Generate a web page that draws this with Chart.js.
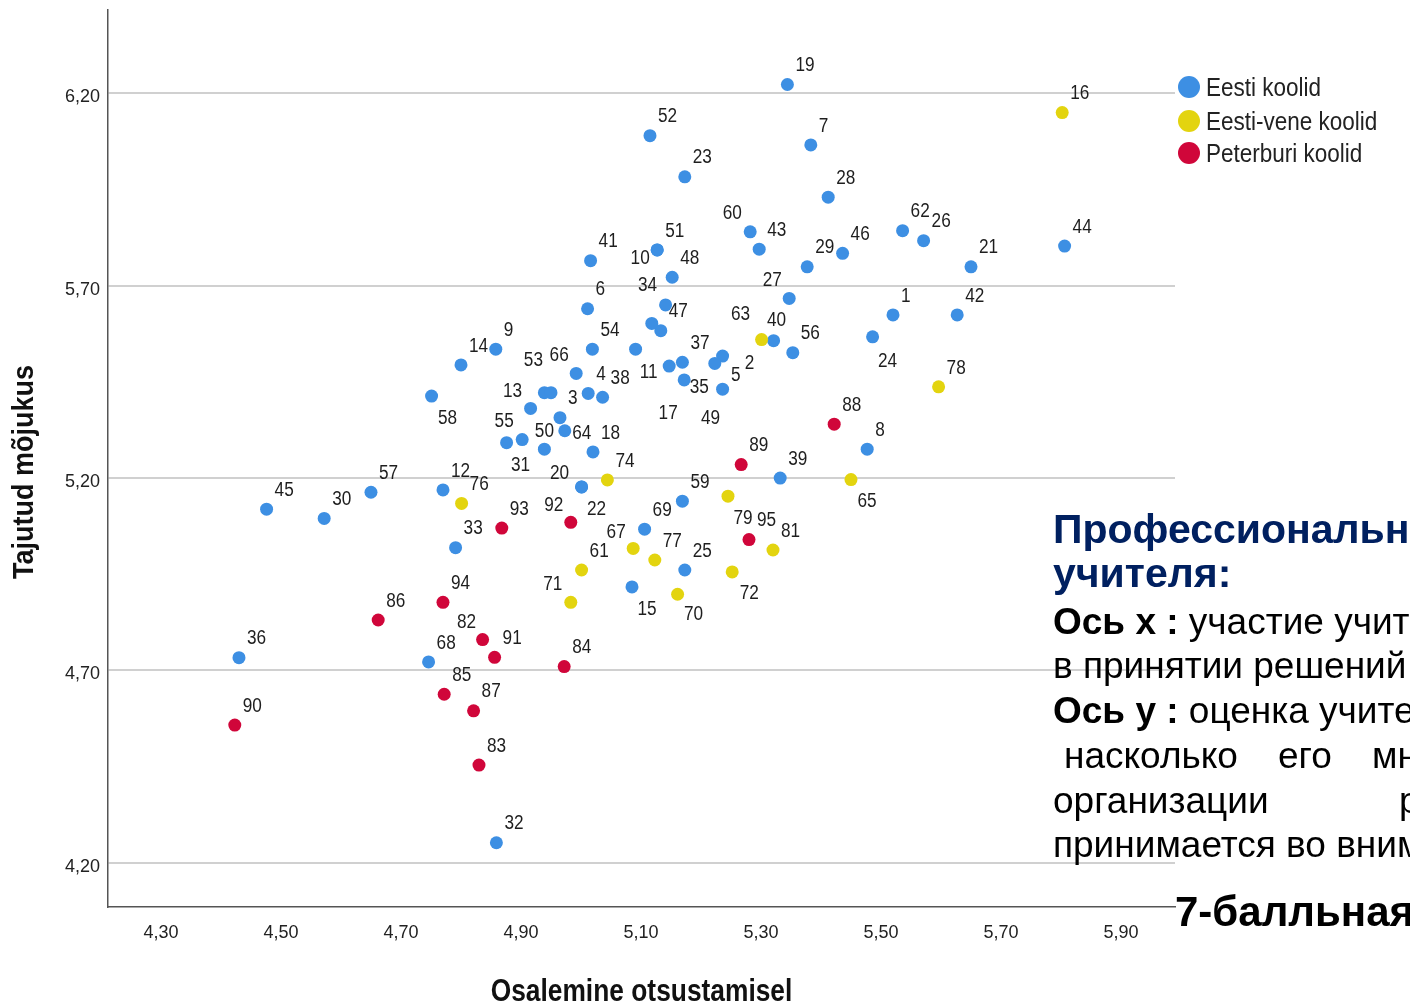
<!DOCTYPE html>
<html>
<head>
<meta charset="utf-8">
<script src="https://cdn.jsdelivr.net/npm/chart.js@4.4.1/dist/chart.umd.min.js"></script>
<style>
  html, body { margin: 0; padding: 0; background: #fff; }
  #wrap { position: relative; width: 1410px; height: 1005px; overflow: hidden; }
  #scatter { position: absolute; left: 0; top: 0; }
  .note { position: absolute; white-space: nowrap; font-family: "Liberation Sans", Arial, sans-serif; line-height: 1; color: #000; }
  .head { font-weight: bold; color: #002060; font-size: 41px; }
  .body { font-size: 37px; }
  .big { font-weight: bold; font-size: 42px; }
</style>
</head>
<body>
<div id="wrap">
  <canvas id="scatter" width="1410" height="1005"></canvas>
  <div class="note head" style="left:1053px; top:509px">Профессиональн</div>
  <div class="note head" style="left:1053px; top:553px">учителя:</div>
  <div class="note body" style="left:1053px; top:603px"><b>Ось x :</b> участие учит</div>
  <div class="note body" style="left:1053px; top:647px">в принятии решений</div>
  <div class="note body" style="left:1053px; top:692px"><b>Ось y :</b> оценка учите</div>
  <div class="note body" style="left:1064px; top:737px">насколько</div>
  <div class="note body" style="left:1278px; top:737px">его</div>
  <div class="note body" style="left:1372px; top:737px">мн</div>
  <div class="note body" style="left:1053px; top:782px">организации</div>
  <div class="note body" style="left:1399px; top:782px">р</div>
  <div class="note body" style="left:1053px; top:826px">принимается во вним</div>
  <div class="note big" style="left:1175px; top:891px">7-балльная</div>
</div>
<script>
// axis ticks
const xTickValues = [4.3, 4.5, 4.7, 4.9, 5.1, 5.3, 5.5, 5.7, 5.9];
const yTickValues = [4.2, 4.7, 5.2, 5.7, 6.2];
const seriesNames = ['Eesti koolid', 'Eesti-vene koolid', 'Peterburi koolid'];
const seriesColors = ['#3d8fe3', '#e3d40f', '#d0063a'];

// Eesti koolid (null = dot with no readable label)
const eestiIds = [1, 2, 3, 4, 5, 6, 7, 8, 9, 10, 11, 12, 13, 14, 15, 17, 18, 19, 20, 21, 22, 23, 24, 25, 26, 27, 28, 29, 30, 31,
  32, 33, 34, 35, 36, 37, 38, 39, 40, 41, 42, 43, 44, 45, 46, 47, 48, 49, 50, 51, 52, 53, 54, 55, 56, 57, 58, 59, 60, 62,
  64, 66, 68, 69, null, null];
const eestiX = [5.520, 5.236, 4.965, 5.012, 5.223, 5.011, 5.383, 5.477, 4.858, 5.127, 5.091, 4.770, 4.916, 4.800, 5.085,
  5.147, 5.020, 5.344, 5.001, 5.650, 5.001, 5.173, 5.486, 5.173, 5.571, 5.347, 5.412, 5.377, 4.572, 4.876,
  4.859, 4.791, 5.141, 5.172, 4.430, 5.169, 5.036, 5.332, 5.321, 5.016, 5.627, 5.297, 5.806, 4.476, 5.436,
  5.133, 5.152, 5.236, 4.939, 5.127, 5.115, 4.939, 5.019, 4.902, 5.353, 4.650, 4.751, 5.169, 5.282, 5.536,
  4.973, 4.992, 4.746, 5.106, 5.118, 4.950];
const eestiY = [5.624, 5.517, 5.357, 5.420, 5.498, 5.640, 6.066, 5.275, 5.535, 5.793, 5.535, 5.169, 5.381, 5.494, 4.917,
  5.491, 5.268, 6.223, 5.177, 5.749, 5.177, 5.983, 5.567, 4.961, 5.817, 5.667, 5.930, 5.749, 5.095, 5.292,
  4.252, 5.019, 5.650, 5.455, 4.733, 5.501, 5.410, 5.200, 5.557, 5.765, 5.624, 5.795, 5.803, 5.119, 5.784,
  5.583, 5.722, 5.431, 5.275, 5.793, 6.090, 5.422, 5.535, 5.300, 5.526, 5.163, 5.413, 5.140, 5.840, 5.843,
  5.323, 5.472, 4.722, 5.067, 5.602, 5.422];

// Eesti-vene koolid
const vestiIds = [16, 61, 63, 65, 67, 70, 71, 72, 74, 76, 77, 78, 79, 81];
const vestiX = [5.802, 5.001, 5.301, 5.450, 5.087, 5.161, 4.983, 5.252, 5.044, 4.801, 5.123, 5.596, 5.245, 5.320];
const vestiY = [6.150, 4.961, 5.560, 5.196, 5.017, 4.898, 4.877, 4.956, 5.195, 5.134, 4.987, 5.437, 5.153, 5.013];

// Peterburi koolid
const spbIds = [82, 83, 84, 85, 86, 87, 88, 89, 90, 91, 92, 93, 94, 95];
const spbX = [4.836, 4.830, 4.972, 4.772, 4.662, 4.821, 5.422, 5.267, 4.423, 4.856, 4.983, 4.868, 4.770, 5.280];
const spbY = [4.780, 4.454, 4.710, 4.638, 4.831, 4.595, 5.340, 5.235, 4.558, 4.734, 5.085, 5.070, 4.877, 5.040];

// labels that do not sit at the usual upper-right spot: shift of label centre from the dot, px
const labelShift = {
  60: [-18, -20], 34: [-18, -21], 10: [-17, 7], 40: [3, -22], 63: [-21, -27], 27: [-17, -20],
  24: [15, 23], 58: [16, 21], 92: [-17, -18], 65: [16, 20], 79: [15, 21], 67: [-17, -18],
  15: [15, 21], 70: [16, 19], 72: [17, 20], 71: [-18, -19], 82: [-16, -19], 66: [-17, -20],
  53: [-11, -34], 13: [-18, -19], 55: [-18, -20], 31: [14, 21], 50: [0, -19], 64: [17, 1],
  11: [13, 22], 35: [15, 6], 49: [-12, 28], 17: [-1, 46], 5: [21, 10], 2: [27, 6],
  20: [-22, -15], 22: [15, 21]
};

function toPoints(xs, ys) {
  return xs.map((x, i) => ({ x: x, y: ys[i] }));
}

function fmt(v) {
  return Number(v).toFixed(2).replace('.', ',');
}

// text squeezed sideways, like the narrow SPSS font
function drawNarrow(ctx, text, x, y, size, weight, sx, align, color, angle) {
  ctx.save();
  ctx.font = weight + ' ' + size + 'px "Liberation Sans", Arial, sans-serif';
  ctx.fillStyle = color;
  ctx.textAlign = align;
  ctx.textBaseline = 'alphabetic';
  ctx.translate(x, y);
  if (angle) ctx.rotate(angle);
  ctx.scale(sx, 1);
  ctx.fillText(text, 0, 0);
  ctx.restore();
}

const idLists = [eestiIds, vestiIds, spbIds];

const pointLabels = {
  id: 'pointLabels',
  afterDatasetsDraw(chart) {
    const ctx = chart.ctx;
    const size = 20;
    chart.data.datasets.forEach((ds, di) => {
      const meta = chart.getDatasetMeta(di);
      meta.data.forEach((el, i) => {
        const id = idLists[di][i];
        if (id === null) return;
        const s = labelShift[id];
        if (s) {
          drawNarrow(ctx, String(id), el.x + s[0], el.y + s[1] + 0.358 * size, size, 'normal', 0.86, 'center', '#1e1e1e');
        } else {
          drawNarrow(ctx, String(id), el.x + 8, el.y - 20.5 + 0.358 * size, size, 'normal', 0.86, 'left', '#1e1e1e');
        }
      });
    });
  }
};

const sideLegend = {
  id: 'sideLegend',
  afterDraw(chart) {
    const ctx = chart.ctx;
    const rowsY = [87, 121, 153];
    chart.data.datasets.forEach((ds, i) => {
      ctx.save();
      ctx.fillStyle = ds.backgroundColor;
      ctx.beginPath();
      ctx.arc(1189, rowsY[i], 11, 0, Math.PI * 2);
      ctx.fill();
      ctx.restore();
      drawNarrow(ctx, ds.label, 1206, rowsY[i] + 9, 25, 'normal', 0.9, 'left', '#222');
    });
  }
};

const axisTitles = {
  id: 'axisTitles',
  afterDraw(chart) {
    const ctx = chart.ctx;
    const a = chart.chartArea;
    drawNarrow(ctx, 'Osalemine otsustamisel', (a.left + a.right) / 2, 1001, 31, 'bold', 0.85, 'center', '#111');
    drawNarrow(ctx, 'Tajutud mõjukus', 33, 472, 30, 'bold', 0.9, 'center', '#111', -Math.PI / 2);
  }
};

new Chart(document.getElementById('scatter').getContext('2d'), {
  type: 'scatter',
  data: {
    datasets: [
      { label: seriesNames[0], data: toPoints(eestiX, eestiY), backgroundColor: seriesColors[0], order: 3 },
      { label: seriesNames[1], data: toPoints(vestiX, vestiY), backgroundColor: seriesColors[1], order: 2 },
      { label: seriesNames[2], data: toPoints(spbX, spbY), backgroundColor: seriesColors[2], order: 1 }
    ]
  },
  options: {
    responsive: false,
    animation: false,
    events: [],
    devicePixelRatio: 1,
    layout: { padding: { top: 10, right: 235, left: 0, bottom: 0 } },
    elements: {
      point: { radius: 6.5, borderWidth: 0, hoverRadius: 6.5 }
    },
    scales: {
      x: {
        type: 'linear',
        min: 4.2117,
        max: 5.99,
        afterBuildTicks: (scale) => { scale.ticks = xTickValues.map(v => ({ value: v })); },
        afterFit: (scale) => {
          scale.height = 98;
          scale.paddingLeft = 0;
          scale.paddingRight = 0;
        },
        grid: { display: false },
        border: { display: true, color: '#555', width: 1.5 },
        ticks: {
          callback: (v) => fmt(v),
          padding: 7,
          maxRotation: 0,
          autoSkip: false,
          color: '#222',
          font: { family: 'Liberation Sans', size: 18 }
        }
      },
      y: {
        type: 'linear',
        min: 4.085,
        max: 6.4166,
        afterBuildTicks: (scale) => { scale.ticks = yTickValues.map(v => ({ value: v })); },
        afterFit: (scale) => {
          scale.width = 108;
          scale.paddingTop = 0;
          scale.paddingBottom = 0;
        },
        grid: { color: '#d0d0d0', lineWidth: 2, drawTicks: false },
        border: { display: true, color: '#555', width: 1.5 },
        ticks: {
          callback: (v) => fmt(v),
          padding: 8,
          labelOffset: 4,
          autoSkip: false,
          color: '#222',
          font: { family: 'Liberation Sans', size: 18 }
        }
      }
    },
    plugins: {
      legend: { display: false },
      tooltip: { enabled: false }
    }
  },
  plugins: [pointLabels, sideLegend, axisTitles]
});
</script>
</body>
</html>
